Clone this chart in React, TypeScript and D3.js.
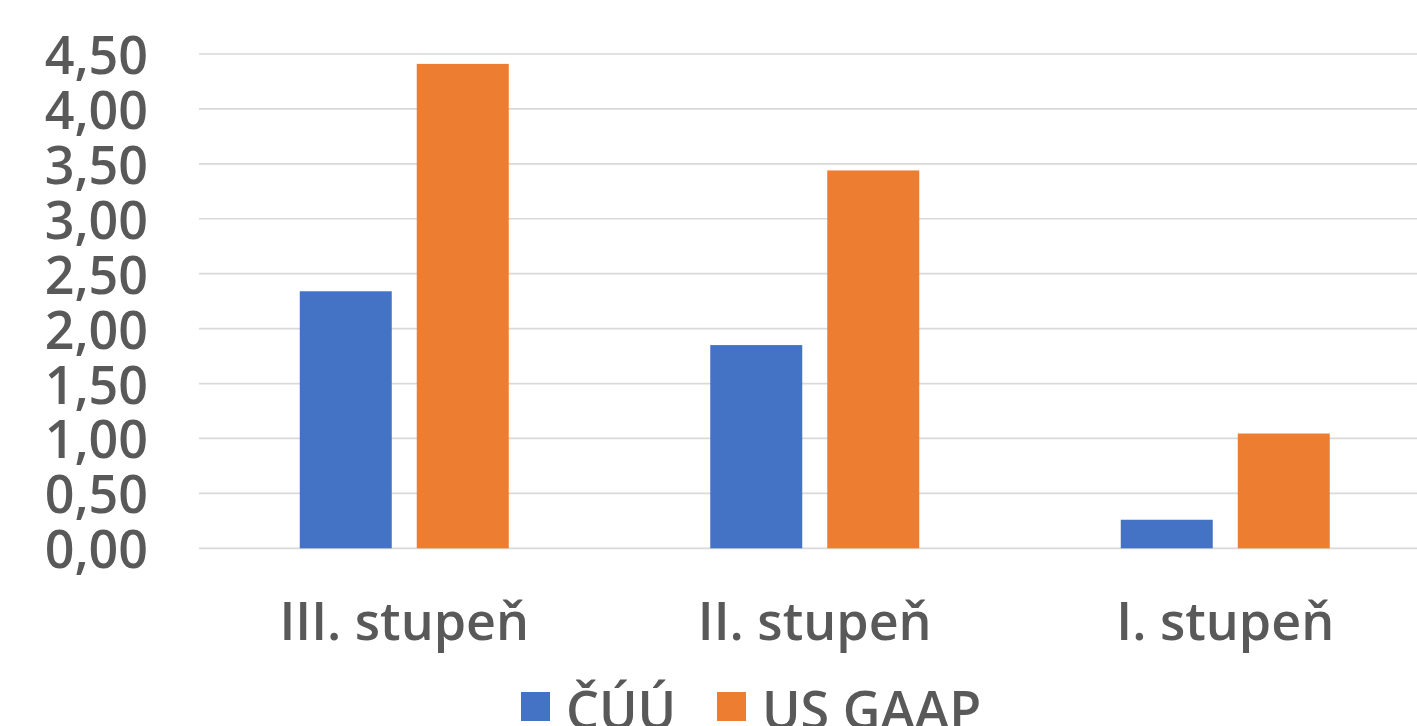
import React from "react";
import * as d3 from "d3";

const categories = ["III. stupeň", "II. stupeň", "I. stupeň"];
const seriesNames = ["ČÚÚ", "US GAAP"];
const cuuValues = [2.34, 1.85, 0.26];
const usGaapValues = [4.41, 3.44, 1.045];
const yTicks = [0, 0.5, 1, 1.5, 2, 2.5, 3, 3.5, 4, 4.5];
const colors = ["#4472C4", "#ED7D31"];

const W = 1417;
const H = 726;
const FONT = "'Open Sans', 'Segoe UI', sans-serif";
const TEXT_COLOR = "#595959";

export default function App() {
  const x = d3.scaleBand<string>().domain(categories).range([199, 1430.5]).padding(0);
  const y = d3.scaleLinear().domain([0, 4.5]).range([548.3, 54]);
  const bw = x.bandwidth();
  const barW = bw * 0.2241;
  const gap = bw * 0.0609;
  const fmt = (v: number) => d3.format(".2f")(v).replace(".", ",");
  const series = [cuuValues, usGaapValues];

  return (
    <svg width={W} height={H} style={{ position: "fixed", left: 0, top: 0, background: "#fff" }}>
      {yTicks.map((t) => (
        <g key={t}>
          <line x1={199} x2={W} y1={y(t)} y2={y(t)} stroke="#d9d9d9" strokeWidth={1.7} />
          <text
            x={148}
            y={y(t) + 20}
            textAnchor="end"
            fontFamily={FONT}
            fontWeight={600}
            fontSize={52}
            fill={TEXT_COLOR}
          >
            {fmt(t)}
          </text>
        </g>
      ))}
      {categories.map((c, i) => {
        const cx = (x(c) as number) + bw / 2;
        return (
          <g key={c}>
            {series.map((vals, s) => (
              <rect
                key={s}
                x={s === 0 ? cx - gap / 2 - barW : cx + gap / 2}
                y={y(vals[i])}
                width={barW}
                height={y(0) - y(vals[i])}
                fill={colors[s]}
              />
            ))}
            <text
              x={cx}
              y={640}
              textAnchor="middle"
              fontFamily={FONT}
              fontWeight={600}
              fontSize={52}
              fill={TEXT_COLOR}
            >
              {c}
            </text>
          </g>
        );
      })}
      {seriesNames.map((n, s) => {
        const lx = s === 0 ? 521 : 717;
        return (
          <g key={n}>
            <rect x={lx} y={692} width={29} height={29} fill={colors[s]} />
            <text
              x={lx + 45}
              y={729}
              fontFamily={FONT}
              fontWeight={600}
              fontSize={52}
              fill={TEXT_COLOR}
            >
              {n}
            </text>
          </g>
        );
      })}
    </svg>
  );
}
